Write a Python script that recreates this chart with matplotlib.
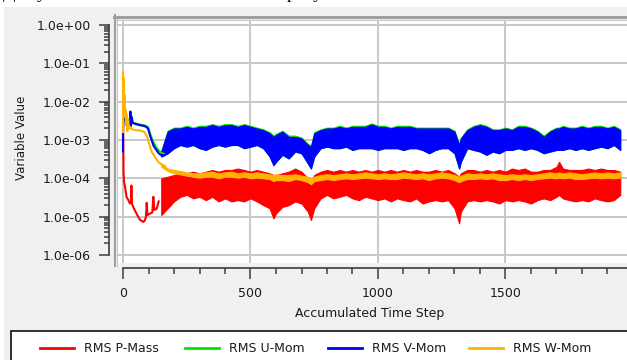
import numpy as np
import matplotlib
matplotlib.use("Agg")
import matplotlib.pyplot as plt
from matplotlib.patches import Rectangle
from matplotlib.lines import Line2D
from matplotlib.ticker import FuncFormatter, NullFormatter

W, H = 627, 360

# --- start-up transient (step, value) ---
p_t_steps = [0, 1, 2, 4, 8, 14, 20, 27, 31, 33, 35, 40, 53, 67, 80, 86, 90, 93, 96, 106, 115, 119, 123, 132, 140]
p_t_vals = [5e-3, 1.2e-3, 1.5e-4, 8e-5, 6e-5, 3.2e-5, 2.8e-5, 2.2e-5, 2.3e-5, 6.5e-5, 2.2e-5, 1.8e-5, 1.2e-5,
            8.2e-6, 7.3e-6, 8e-6, 1e-5, 2.3e-5, 1.1e-5, 1.2e-5, 1.3e-5, 3.3e-5, 1.5e-5, 1.6e-5, 2.5e-5]

v_t_steps = [0, 0, 3, 8, 12, 20, 27, 29, 31, 34, 38, 50, 70, 85, 98, 106, 112, 120, 130, 140, 150, 160]
v_t_vals = [5e-4, 1.8e-3, 7e-3, 6e-3, 2.5e-3, 2.4e-3, 2.8e-3, 5.5e-3, 2.3e-3, 4e-3, 2.8e-3, 2.6e-3, 2.4e-3,
            2.3e-3, 2.0e-3, 1.3e-3, 1.0e-3, 7e-4, 5.6e-4, 4.5e-4, 4.0e-4, 4.0e-4]
u_t_vals = [5e-4, 1.8e-3, 7e-3, 6e-3, 2.5e-3, 2.4e-3, 2.8e-3, 5.5e-3, 2.3e-3, 4e-3, 2.8e-3, 2.7e-3, 2.5e-3,
            2.4e-3, 2.2e-3, 1.5e-3, 1.15e-3, 8.5e-4, 6.5e-4, 5.3e-4, 4.6e-4, 4.4e-4]

w_t_steps = [0, 0, 2, 3, 4, 6, 8, 10, 12, 14, 17, 20, 24, 28, 35, 50, 70, 85, 95, 105, 112, 125, 140, 152, 165]
w_t_vals = [1.6e-3, 6e-2, 2e-2, 4e-2, 1e-2, 1.5e-2, 4e-3, 6e-3, 2.5e-3, 4.5e-3, 1.7e-3, 3.5e-3, 2e-3, 2.2e-3,
            1.9e-3, 1.8e-3, 1.75e-3, 1.6e-3, 1.2e-3, 7e-4, 5e-4, 3.6e-4, 2.6e-4, 2.3e-4, 2.1e-4]

# --- noisy settled part: upper / lower envelope of each residual ---
steps = [150, 175, 200, 225, 250, 275, 300, 325, 350, 375, 400, 425, 450, 475, 500, 525, 550, 575, 590, 600,
         625, 650, 675, 700, 725, 737, 750, 775, 800, 825, 850, 875, 900, 925, 950, 975, 1000, 1025, 1050,
         1075, 1100, 1125, 1150, 1175, 1200, 1225, 1250, 1275, 1300, 1318, 1325, 1350, 1375, 1400, 1425,
         1450, 1475, 1500, 1525, 1550, 1575, 1600, 1625, 1650, 1675, 1700, 1710, 1725, 1750, 1775, 1800,
         1825, 1850, 1875, 1900, 1925, 1950]

p_hi = [1.0e-4, 1.1e-4, 1.22e-4, 1.35e-4, 1.35e-4, 1.49e-4, 1.35e-4, 1.49e-4, 1.65e-4, 1.49e-4, 1.65e-4,
        1.65e-4, 1.8e-4, 1.65e-4, 1.49e-4, 1.65e-4, 1.49e-4, 1.35e-4, 1.22e-4, 1.22e-4, 1.35e-4, 1.49e-4,
        1.8e-4, 1.49e-4, 1.0e-4, 8.2e-5, 1.22e-4, 1.49e-4, 1.65e-4, 1.49e-4, 1.65e-4, 1.49e-4, 1.65e-4,
        1.49e-4, 1.65e-4, 1.49e-4, 1.65e-4, 1.49e-4, 1.65e-4, 1.49e-4, 1.65e-4, 1.49e-4, 1.65e-4, 1.49e-4,
        1.49e-4, 1.65e-4, 1.49e-4, 1.65e-4, 1.35e-4, 1.1e-4, 1.35e-4, 1.65e-4, 1.65e-4, 1.49e-4, 1.65e-4,
        1.49e-4, 1.65e-4, 1.49e-4, 1.8e-4, 1.65e-4, 1.8e-4, 1.49e-4, 1.49e-4, 1.65e-4, 1.65e-4, 2.0e-4,
        2.7e-4, 1.8e-4, 1.65e-4, 1.65e-4, 1.65e-4, 1.8e-4, 1.65e-4, 1.8e-4, 1.65e-4, 1.65e-4, 1.49e-4]
p_lo = [1.1e-5, 1.65e-5, 2.5e-5, 3.3e-5, 3.7e-5, 3.0e-5, 3.3e-5, 2.7e-5, 3.3e-5, 2.5e-5, 3.0e-5, 2.5e-5,
        2.7e-5, 2.5e-5, 3.0e-5, 2.5e-5, 2.0e-5, 1.65e-5, 9e-6, 1.22e-5, 1.8e-5, 2.0e-5, 2.5e-5, 2.2e-5,
        1.35e-5, 8.2e-6, 1.65e-5, 3.0e-5, 3.7e-5, 3.0e-5, 3.3e-5, 3.7e-5, 3.0e-5, 2.7e-5, 3.3e-5, 3.0e-5,
        2.7e-5, 3.0e-5, 2.5e-5, 3.0e-5, 2.7e-5, 2.5e-5, 3.0e-5, 2.2e-5, 2.5e-5, 2.7e-5, 2.5e-5, 2.7e-5,
        1.65e-5, 6.7e-6, 1.35e-5, 2.5e-5, 2.7e-5, 2.5e-5, 2.7e-5, 2.5e-5, 2.2e-5, 2.7e-5, 2.5e-5, 2.7e-5,
        2.5e-5, 2.2e-5, 2.7e-5, 3.0e-5, 2.7e-5, 3.3e-5, 3.7e-5, 3.0e-5, 2.7e-5, 2.5e-5, 2.7e-5, 2.5e-5,
        3.0e-5, 2.7e-5, 2.5e-5, 2.7e-5, 3.7e-5]

u_hi = [5.3e-4, 1.75e-3, 2.1e-3, 2.1e-3, 2.35e-3, 2.1e-3, 2.35e-3, 2.35e-3, 2.6e-3, 2.35e-3, 2.6e-3, 2.6e-3,
        2.35e-3, 2.6e-3, 2.35e-3, 2.1e-3, 1.9e-3, 1.6e-3, 1.3e-3, 1.45e-3, 1.75e-3, 1.3e-3, 1.3e-3,
        1.15e-3, 8.0e-4, 7.1e-4, 1.6e-3, 1.9e-3, 2.1e-3, 2.1e-3, 2.35e-3, 2.1e-3, 2.35e-3, 2.35e-3, 2.35e-3,
        2.7e-3, 2.35e-3, 2.35e-3, 2.1e-3, 2.35e-3, 2.35e-3, 2.35e-3, 2.1e-3, 2.1e-3, 2.1e-3, 2.1e-3, 2.1e-3,
        2.1e-3, 1.75e-3, 7.9e-4, 1.15e-3, 1.9e-3, 2.35e-3, 2.6e-3, 2.35e-3, 1.9e-3, 1.9e-3, 2.1e-3, 1.9e-3,
        2.35e-3, 2.35e-3, 2.1e-3, 1.75e-3, 1.3e-3, 1.75e-3, 2.1e-3, 2.1e-3, 2.35e-3, 2.1e-3, 2.1e-3, 2.35e-3,
        2.1e-3, 2.35e-3, 2.35e-3, 2.1e-3, 2.35e-3, 1.9e-3]

v_hi = [5.0e-4, 1.65e-3, 2.0e-3, 2.0e-3, 2.2e-3, 2.0e-3, 2.2e-3, 2.2e-3, 2.45e-3, 2.2e-3, 2.45e-3, 2.45e-3,
        2.2e-3, 2.45e-3, 2.2e-3, 2.0e-3, 1.8e-3, 1.5e-3, 1.2e-3, 1.35e-3, 1.65e-3, 1.2e-3, 1.2e-3, 1.1e-3,
        7.4e-4, 6.7e-4, 1.5e-3, 1.8e-3, 2.0e-3, 2.0e-3, 2.2e-3, 2.0e-3, 2.2e-3, 2.2e-3, 2.2e-3, 2.55e-3,
        2.2e-3, 2.2e-3, 2.0e-3, 2.2e-3, 2.2e-3, 2.2e-3, 2.0e-3, 2.0e-3, 2.0e-3, 2.0e-3, 2.0e-3, 2.0e-3,
        1.65e-3, 7.4e-4, 1.1e-3, 1.8e-3, 2.2e-3, 2.45e-3, 2.2e-3, 1.8e-3, 1.8e-3, 2.0e-3, 1.8e-3, 2.2e-3,
        2.2e-3, 2.0e-3, 1.65e-3, 1.2e-3, 1.65e-3, 2.0e-3, 2.0e-3, 2.2e-3, 2.0e-3, 2.0e-3, 2.2e-3, 2.0e-3,
        2.2e-3, 2.2e-3, 2.0e-3, 2.2e-3, 1.8e-3]
v_lo = [3.7e-4, 4.5e-4, 6.1e-4, 7.4e-4, 6.7e-4, 7.4e-4, 6.1e-4, 5.5e-4, 6.7e-4, 7.4e-4, 6.7e-4, 7.4e-4,
        7.4e-4, 6.1e-4, 6.7e-4, 7.4e-4, 6.1e-4, 3.7e-4, 2.2e-4, 2.7e-4, 4.1e-4, 3.3e-4, 5.0e-4, 4.5e-4,
        2.45e-4, 1.8e-4, 3.7e-4, 6.1e-4, 6.7e-4, 6.1e-4, 6.1e-4, 6.7e-4, 5.5e-4, 6.1e-4, 6.1e-4, 6.1e-4,
        5.5e-4, 6.1e-4, 6.1e-4, 6.1e-4, 5.5e-4, 6.1e-4, 6.1e-4, 5.5e-4, 4.5e-4, 5.5e-4, 6.1e-4, 6.1e-4,
        4.5e-4, 1.8e-4, 2.7e-4, 6.1e-4, 5.5e-4, 5.0e-4, 4.1e-4, 5.0e-4, 4.5e-4, 5.5e-4, 5.5e-4, 6.1e-4,
        5.5e-4, 6.1e-4, 5.5e-4, 4.5e-4, 5.0e-4, 5.5e-4, 5.5e-4, 5.5e-4, 6.1e-4, 5.5e-4, 6.1e-4, 5.5e-4,
        6.1e-4, 6.7e-4, 6.1e-4, 7.4e-4, 5.5e-4]

w_hi = [2.45e-4, 1.8e-4, 1.65e-4, 1.55e-4, 1.43e-4, 1.35e-4, 1.35e-4, 1.43e-4, 1.49e-4, 1.35e-4, 1.43e-4,
        1.49e-4, 1.35e-4, 1.43e-4, 1.35e-4, 1.43e-4, 1.35e-4, 1.27e-4, 1.22e-4, 1.27e-4, 1.22e-4, 1.22e-4,
        1.27e-4, 1.17e-4, 1.1e-4, 1.0e-4, 1.1e-4, 1.22e-4, 1.27e-4, 1.22e-4, 1.27e-4, 1.35e-4, 1.27e-4,
        1.35e-4, 1.43e-4, 1.35e-4, 1.27e-4, 1.35e-4, 1.27e-4, 1.35e-4, 1.43e-4, 1.35e-4, 1.27e-4, 1.35e-4,
        1.27e-4, 1.35e-4, 1.43e-4, 1.35e-4, 1.22e-4, 1.1e-4, 1.17e-4, 1.35e-4, 1.27e-4, 1.35e-4, 1.27e-4,
        1.35e-4, 1.27e-4, 1.22e-4, 1.27e-4, 1.22e-4, 1.27e-4, 1.22e-4, 1.27e-4, 1.35e-4, 1.43e-4, 1.35e-4,
        1.43e-4, 1.35e-4, 1.43e-4, 1.35e-4, 1.27e-4, 1.35e-4, 1.43e-4, 1.35e-4, 1.43e-4, 1.35e-4, 1.43e-4]
w_lo = [2.0e-4, 1.55e-4, 1.35e-4, 1.27e-4, 1.17e-4, 1.1e-4, 1.04e-4, 1.1e-4, 1.1e-4, 1.0e-4, 1.1e-4, 1.1e-4,
        1.04e-4, 1.1e-4, 1.0e-4, 1.04e-4, 1.0e-4, 9.6e-5, 8.5e-5, 9.0e-5, 9.0e-5, 8.5e-5, 9.6e-5, 9.0e-5,
        7.9e-5, 7.0e-5, 8.5e-5, 9.0e-5, 9.6e-5, 9.0e-5, 9.6e-5, 1.0e-4, 9.6e-5, 1.0e-4, 1.04e-4, 1.0e-4,
        9.6e-5, 1.0e-4, 9.6e-5, 9.6e-5, 1.04e-4, 1.0e-4, 9.6e-5, 1.0e-4, 9.0e-5, 1.0e-4, 1.04e-4, 1.0e-4,
        9.0e-5, 7.9e-5, 8.5e-5, 9.6e-5, 9.6e-5, 1.0e-4, 9.6e-5, 1.0e-4, 9.0e-5, 9.0e-5, 9.6e-5, 9.0e-5,
        9.6e-5, 9.0e-5, 9.6e-5, 1.0e-4, 1.04e-4, 1.0e-4, 1.04e-4, 1.0e-4, 1.04e-4, 9.6e-5, 9.6e-5, 1.0e-4,
        1.04e-4, 1.0e-4, 1.04e-4, 1.0e-4, 1.04e-4]

names = ["RMS P-Mass", "RMS U-Mom", "RMS V-Mom", "RMS W-Mom"]
colors = ["#ff0000", "#00e600", "#0000ff", "#ffb300"]
y_ticks = [1e-6, 1e-5, 1e-4, 1e-3, 1e-2, 1e-1, 1e0]
x_ticks = [0, 500, 1000, 1500]


def fx(p):
    return p / W


def fy(p):
    return 1 - p / H


fig = plt.figure(figsize=(W / 100, H / 100), dpi=100)
fig.patch.set_facecolor("white")
plt.rcParams["font.family"] = ["DejaVu Sans"]

# grey dialog panel + cut-off document line above it (only its lowest pixels show)
fig.add_artist(Rectangle((fx(4), 0), 1, fy(7), transform=fig.transFigure,
                         facecolor="#f0f0f0", edgecolor="none", zorder=-2))
fig.text(fx(3), fy(-2), "Для указанных выше типов сетки на рисунке показаны",
         family="Liberation Serif", fontsize=13, va="baseline", ha="left", color="black", zorder=-1)

ax = fig.add_axes([fx(118), fy(263), (639.5 - 118) / W, (263 - 20) / H])
ax.set_facecolor("white")

ax.plot(p_t_steps, p_t_vals, color=colors[0], lw=1.5)
ax.fill_between(steps, p_lo, p_hi, color=colors[0], lw=0.8)
ax.plot(v_t_steps, u_t_vals, color=colors[1], lw=1.5)
ax.fill_between(steps, v_lo, u_hi, color=colors[1], lw=0.8)
ax.plot(v_t_steps, v_t_vals, color=colors[2], lw=1.5)
ax.fill_between(steps, v_lo, v_hi, color=colors[2], lw=0.8)
ax.plot(w_t_steps, w_t_vals, color=colors[3], lw=1.5)
ax.fill_between(steps, w_lo, w_hi, color=colors[3], lw=0.8)

ax.set_yscale("log")
ax.set_xlim((118 - 123) / 0.255, (639.5 - 123) / 0.255)
ax.set_ylim(10 ** (-(263 - 25) / 38.33), 10 ** ((25 - 20) / 38.33))

ax.set_yticks(y_ticks)
ax.set_yticks([m * 10.0 ** e for e in range(-6, 0) for m in range(2, 10)], minor=True)
ax.yaxis.set_major_formatter(FuncFormatter(lambda v, p: f"{v:.1e}"))
ax.yaxis.set_minor_formatter(NullFormatter())
ax.set_xticks(x_ticks)
ax.set_xticks(range(0, 2001, 100), minor=True)

ax.grid(True, which="major", color="#c8c8c8", lw=1.4)
ax.set_axisbelow(True)

for s in ["top", "right"]:
    ax.spines[s].set_visible(False)
ax.spines["left"].set_position(("outward", 6.5))
ax.spines["left"].set_bounds(1e-6, 1)
ax.spines["bottom"].set_position(("outward", 3.6))
ax.spines["bottom"].set_bounds(0, 2000)
for s in ["left", "bottom"]:
    ax.spines[s].set_color("#3c3c3c")
    ax.spines[s].set_linewidth(1.2)

ax.tick_params(axis="both", which="both", direction="out", color="#3c3c3c", width=1.1,
               labelsize=9, labelcolor="#1a1a1a")
ax.tick_params(axis="y", which="major", length=7, pad=6)
ax.tick_params(axis="y", which="minor", length=3.6)
ax.tick_params(axis="x", which="major", length=8, pad=5.5)
ax.tick_params(axis="x", which="minor", length=4.2)

ax.set_xlabel("Accumulated Time Step", fontsize=9, color="#1a1a1a")
ax.xaxis.set_label_coords((370 - 118) / (639.5 - 118), -(313 - 263) / 243)
ax.xaxis.label.set_va("center")
ax.set_ylabel("Variable Value", fontsize=8.5, color="#1a1a1a")
ax.yaxis.set_label_coords((21 - 118) / (639.5 - 118), (263 - 138) / 243)
ax.yaxis.label.set_va("center")

# double grey frame of the plot area
fig.add_artist(Line2D([fx(115), fx(115)], [fy(15), fy(266)], color="#a0a0a0", lw=1.5, zorder=3))
fig.add_artist(Line2D([fx(117.3), fx(117.3)], [fy(19), fy(266)], color="#c8c8c8", lw=0.8, zorder=3))
fig.add_artist(Line2D([fx(114), 1.02], [fy(16.8), fy(16.8)], color="#a0a0a0", lw=2.2, zorder=3))
fig.add_artist(Line2D([fx(117), 1.02], [fy(19.5), fy(19.5)], color="#c8c8c8", lw=0.8, zorder=3))

# legend strip
fig.add_artist(Rectangle((fx(10.5), fy(372)), 1, fy(330.5) - fy(372), transform=fig.transFigure,
                         facecolor="white", edgecolor="#202020", lw=1.3, zorder=1))
legend_x = [40, 185, 328, 469]
for name, c, lx in zip(names, colors, legend_x):
    fig.add_artist(Line2D([fx(lx), fx(lx + 34)], [fy(348), fy(348)], color=c, lw=2, zorder=2))
    fig.text(fx(lx + 44), fy(348), name, fontsize=9, va="center", ha="left", color="#1a1a1a", zorder=2)

fig.savefig("out.png", dpi=100, facecolor=fig.get_facecolor())
